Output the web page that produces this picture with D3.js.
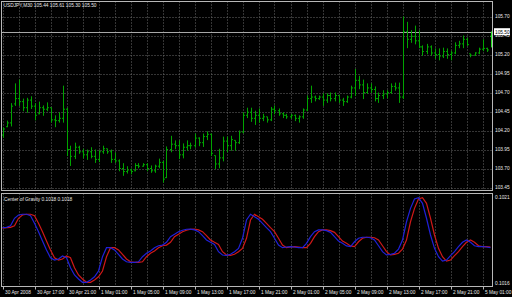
<!DOCTYPE html>
<html>
<head>
<meta charset="utf-8">
<script src="https://cdn.jsdelivr.net/npm/d3@7"></script>
<style>
  body { margin: 0; background: #000; }
  svg text { font-family: "Liberation Sans", Arial, sans-serif; fill: #e8e8e8; }
</style>
</head>
<body>
<div id="holder"></div>
<script>
// USDJPY M30 bars (high, low, open, close)
var highs = [104.24,104.33,104.56,104.82,104.87,104.62,104.63,104.65,104.56,104.58,
  104.53,104.57,104.50,104.40,104.44,104.79,104.50,104.00,104.04,104.00,
  103.96,103.95,103.98,103.95,103.94,104.00,103.96,103.95,103.91,103.82,
  103.77,103.73,103.70,103.77,103.77,103.77,103.77,103.74,103.75,103.83,
  103.80,103.99,104.13,104.07,104.07,104.03,104.07,104.04,104.16,104.11,
  104.16,104.19,104.16,103.87,103.96,104.12,104.12,104.13,104.07,104.20,
  104.44,104.50,104.50,104.46,104.49,104.42,104.38,104.51,104.53,104.49,
  104.44,104.42,104.42,104.41,104.40,104.49,104.66,104.79,104.66,104.66,
  104.69,104.69,104.70,104.70,104.66,104.63,104.66,104.79,105.01,104.92,
  104.87,104.82,104.82,104.78,104.70,104.73,104.73,104.82,104.83,104.83,
  105.70,105.63,105.52,105.58,105.52,105.32,105.34,105.32,105.28,105.28,
  105.29,105.28,105.25,105.36,105.38,105.45,105.42,105.21,105.23,105.29,
  105.40,105.29,105.50];
var lows = [104.11,104.25,104.26,104.53,104.53,104.46,104.44,104.49,104.34,104.42,
  104.40,104.46,104.31,104.25,104.31,104.31,103.87,103.74,103.83,103.90,
  103.84,103.82,103.84,103.78,103.79,103.90,103.90,103.78,103.78,103.67,
  103.61,103.64,103.63,103.67,103.71,103.73,103.67,103.65,103.65,103.71,
  103.52,103.58,103.92,103.96,103.83,103.84,103.94,103.96,103.98,104.00,
  103.99,104.08,103.87,103.70,103.71,103.80,103.92,103.94,103.94,104.03,
  104.17,104.37,104.32,104.28,104.31,104.33,104.31,104.33,104.42,104.40,
  104.37,104.36,104.36,104.33,104.31,104.36,104.46,104.57,104.59,104.61,
  104.53,104.57,104.59,104.59,104.57,104.53,104.57,104.63,104.66,104.75,
  104.62,104.69,104.70,104.59,104.57,104.62,104.63,104.69,104.73,104.57,
  104.62,105.29,105.36,105.34,105.29,105.19,105.21,105.19,105.15,105.13,
  105.16,105.15,105.13,105.21,105.29,105.29,105.32,105.17,105.19,105.21,
  105.25,105.24,105.30];
var opens = [104.14,104.25,104.30,104.55,104.62,104.58,104.50,104.60,104.52,104.42,
  104.50,104.48,104.50,104.34,104.33,104.36,104.48,103.95,103.86,103.98,
  103.92,103.88,103.92,103.86,103.82,103.92,103.96,103.92,103.82,103.80,
  103.70,103.66,103.68,103.67,103.74,103.73,103.75,103.70,103.67,103.73,
  103.78,103.58,103.95,104.02,104.00,103.88,103.98,104.00,104.00,104.10,
  104.04,104.12,104.15,103.87,103.76,103.84,104.06,104.00,104.07,104.04,
  104.18,104.40,104.44,104.36,104.40,104.36,104.38,104.34,104.48,104.46,
  104.42,104.40,104.38,104.40,104.36,104.38,104.47,104.62,104.64,104.62,
  104.64,104.60,104.66,104.62,104.66,104.60,104.58,104.64,104.76,104.86,
  104.80,104.70,104.76,104.74,104.62,104.66,104.68,104.70,104.78,104.76,
  104.64,105.50,105.40,105.44,105.38,105.30,105.24,105.30,105.22,105.20,
  105.18,105.24,105.20,105.22,105.32,105.34,105.40,105.21,105.19,105.22,
  105.27,105.28,105.44];
var closes = [104.22,104.30,104.52,104.62,104.58,104.50,104.60,104.52,104.40,104.50,
  104.48,104.50,104.34,104.33,104.36,104.48,103.95,103.86,103.98,103.92,
  103.88,103.92,103.86,103.82,103.92,103.96,103.92,103.82,103.80,103.70,
  103.66,103.68,103.66,103.74,103.73,103.75,103.70,103.67,103.73,103.78,
  103.56,103.95,104.02,104.00,103.88,103.98,104.00,104.00,104.10,104.04,
  104.12,104.15,103.90,103.76,103.84,104.06,104.00,104.08,104.04,104.18,
  104.40,104.44,104.36,104.40,104.36,104.38,104.34,104.48,104.46,104.42,
  104.40,104.38,104.40,104.36,104.38,104.47,104.62,104.64,104.62,104.64,
  104.60,104.66,104.62,104.66,104.60,104.58,104.64,104.76,104.86,104.80,
  104.70,104.76,104.74,104.62,104.66,104.68,104.70,104.78,104.76,104.64,
  105.50,105.40,105.44,105.38,105.30,105.24,105.30,105.22,105.20,105.18,
  105.24,105.20,105.22,105.32,105.34,105.40,105.33,105.19,105.22,105.27,
  105.28,105.26,105.50];

// Center of Gravity indicator, blue = main line, red = signal line
var cogMain = [0.101918,0.101920,0.101929,0.101972,0.101991,0.101995,0.101995,0.101987,0.101943,0.101895,
  0.101841,0.101790,0.101745,0.101732,0.101738,0.101755,0.101745,0.101688,0.101646,0.101623,
  0.101604,0.101604,0.101617,0.101636,0.101669,0.101751,0.101803,0.101803,0.101790,0.101765,
  0.101738,0.101722,0.101719,0.101719,0.101722,0.101751,0.101771,0.101784,0.101803,0.101814,
  0.101818,0.101834,0.101866,0.101880,0.101895,0.101903,0.101909,0.101910,0.101905,0.101895,
  0.101872,0.101847,0.101834,0.101822,0.101780,0.101761,0.101759,0.101765,0.101780,0.101799,
  0.101857,0.101962,0.101995,0.101981,0.101966,0.101943,0.101918,0.101895,0.101857,0.101818,
  0.101803,0.101807,0.101809,0.101807,0.101803,0.101803,0.101828,0.101866,0.101895,0.101905,
  0.101905,0.101901,0.101891,0.101866,0.101841,0.101828,0.101813,0.101809,0.101837,0.101857,
  0.101863,0.101863,0.101860,0.101847,0.101814,0.101780,0.101761,0.101765,0.101771,0.101795,
  0.101847,0.101952,0.102029,0.102083,0.102090,0.102058,0.101972,0.101876,0.101799,0.101751,
  0.101726,0.101732,0.101757,0.101780,0.101809,0.101834,0.101847,0.101834,0.101814,0.101809,
  0.101809,0.101807,0.101803];
var cogSignal = [0.101915,0.101918,0.101920,0.101929,0.101972,0.101991,0.101995,0.101995,0.101987,0.101943,
  0.101895,0.101841,0.101790,0.101745,0.101732,0.101738,0.101755,0.101745,0.101688,0.101646,
  0.101623,0.101604,0.101604,0.101617,0.101636,0.101669,0.101751,0.101803,0.101803,0.101790,
  0.101765,0.101738,0.101722,0.101719,0.101719,0.101722,0.101751,0.101771,0.101784,0.101803,
  0.101814,0.101818,0.101834,0.101866,0.101880,0.101895,0.101903,0.101909,0.101910,0.101905,
  0.101895,0.101872,0.101847,0.101834,0.101822,0.101780,0.101761,0.101759,0.101765,0.101780,
  0.101799,0.101857,0.101962,0.101995,0.101981,0.101966,0.101943,0.101918,0.101895,0.101857,
  0.101818,0.101803,0.101807,0.101809,0.101807,0.101803,0.101803,0.101828,0.101866,0.101895,
  0.101905,0.101905,0.101901,0.101891,0.101866,0.101841,0.101828,0.101813,0.101809,0.101837,
  0.101857,0.101863,0.101863,0.101860,0.101847,0.101814,0.101780,0.101761,0.101765,0.101771,
  0.101795,0.101847,0.101952,0.102029,0.102083,0.102090,0.102058,0.101972,0.101876,0.101799,
  0.101751,0.101726,0.101732,0.101757,0.101780,0.101809,0.101834,0.101847,0.101834,0.101814,
  0.101809,0.101809,0.101807];

// axis texts
var priceTicks = [105.70,105.45,105.20,104.95,104.70,104.45,104.20,103.95,103.70,103.45];
var timeLabels = ["30 Apr 2008","30 Apr 17:00","30 Apr 21:00","1 May 01:00","1 May 05:00",
  "1 May 09:00","1 May 13:00","1 May 17:00","1 May 21:00","2 May 01:00","2 May 05:00",
  "2 May 09:00","2 May 13:00","2 May 17:00","2 May 21:00","5 May 01:00"];
var timeLabelBars = [0,8,16,24,32,40,48,56,64,72,80,88,96,104,112,120];
var cogTicks = ["0.1021","0.1016"];
var headerText = "USDJPY,M30  105.44 105.61 105.30 105.50";
var cogTitle = "Center of Gravity 0.1018 0.1018";
var lastPrice = 105.50;

// define svg width, height
var width = 512, height = 297;
var main = {top: 1.5, bottom: 190.5, left: 1.5, right: 492.5};
var sub = {top: 193.5, bottom: 286.5};

var svg = d3.select("#holder")
            .append("svg")
            .attr("width", width)
            .attr("height", height)
            .style("display", "block")
            .style("background", "#000");

var x = d3.scaleLinear().domain([0, highs.length - 1]).range([2.5, 490.5]);
var y = d3.scaleLinear().domain([103.45, 105.70]).range([187.5, 16.5]);
var yc = d3.scaleLinear().domain([0.1016, 0.1021]).range([283, 196]);

var gridColor = "#6a6a6a";
var frameColor = "#b8b8b8";

// vertical grid lines every 4 bars (2 hours)
var gridBars = d3.range(0, highs.length, 4);
[[main.top, main.bottom], [sub.top, sub.bottom]].forEach(function(r) {
  svg.append("g")
     .selectAll("line")
     .data(gridBars)
     .enter()
     .append("line")
     .attr("x1", d => Math.round(x(d)) + 0.5)
     .attr("x2", d => Math.round(x(d)) + 0.5)
     .attr("y1", r[0])
     .attr("y2", r[1])
     .attr("stroke", gridColor)
     .attr("stroke-dasharray", "1,2");
});

// horizontal grid lines at price labels
svg.append("g")
   .selectAll("line")
   .data(priceTicks)
   .enter()
   .append("line")
   .attr("x1", main.left)
   .attr("x2", main.right)
   .attr("y1", d => Math.round(y(d)) + 0.5)
   .attr("y2", d => Math.round(y(d)) + 0.5)
   .attr("stroke", gridColor)
   .attr("stroke-dasharray", "1,2");

// bid line
svg.append("line")
   .attr("x1", main.left)
   .attr("x2", main.right)
   .attr("y1", Math.round(y(lastPrice)) + 0.5)
   .attr("y2", Math.round(y(lastPrice)) + 0.5)
   .attr("stroke", "#a8a8a8");

// price bars
svg.append("g")
   .selectAll("path")
   .data(highs.map((h, i) => i))
   .enter()
   .append("path")
   .attr("d", i => {
     var px = Math.round(x(i)) + 0.5;
     return "M" + px + "," + y(highs[i]) + "V" + (y(lows[i]) + 0.5) +
            "M" + (px - 1.5) + "," + y(opens[i]) + "H" + px +
            "M" + px + "," + y(closes[i]) + "H" + (px + 1.5);
   })
   .attr("fill", "none")
   .attr("stroke", (i) => i === highs.length - 1 ? "#20e020" : "#00a400")
   .attr("stroke-width", 1);

// indicator lines
var cogLine = d3.line()
                .x((d, i) => x(i))
                .y(d => yc(d));

svg.append("path")
   .datum(cogSignal)
   .attr("d", cogLine)
   .attr("fill", "none")
   .attr("stroke", "#d01818")
   .attr("stroke-width", 1.2);

svg.append("path")
   .datum(cogMain)
   .attr("d", cogLine)
   .attr("fill", "none")
   .attr("stroke", "#2020d8")
   .attr("stroke-width", 1.2);

// frames
svg.append("rect")
   .attr("x", main.left).attr("y", main.top)
   .attr("width", main.right - main.left).attr("height", main.bottom - main.top)
   .attr("fill", "none").attr("stroke", frameColor);
svg.append("rect")
   .attr("x", main.left).attr("y", sub.top)
   .attr("width", main.right - main.left).attr("height", sub.bottom - sub.top)
   .attr("fill", "none").attr("stroke", frameColor);

var fs = "4.8px";

// price scale
svg.append("g")
   .selectAll("text")
   .data(priceTicks)
   .enter()
   .append("text")
   .attr("x", 495)
   .attr("y", d => y(d) + 1.8)
   .style("font-size", fs)
   .text(d => d.toFixed(2));

// bid label box
svg.append("rect")
   .attr("x", 494)
   .attr("y", y(lastPrice) - 3.5)
   .attr("width", 16)
   .attr("height", 7)
   .attr("fill", "#ffffff");
svg.append("text")
   .attr("x", 495)
   .attr("y", y(lastPrice) + 1.8)
   .style("font-size", fs)
   .style("fill", "#000")
   .text(lastPrice.toFixed(2));

// indicator scale
svg.append("text").attr("x", 495).attr("y", 198.5).style("font-size", fs).text(cogTicks[0]);
svg.append("text").attr("x", 495).attr("y", 285).style("font-size", fs).text(cogTicks[1]);

// titles
svg.append("text").attr("x", 3.5).attr("y", 6.8).style("font-size", fs).text(headerText);
svg.append("text").attr("x", 4).attr("y", 200.5).style("font-size", fs).text(cogTitle);

// time axis ticks and labels
svg.append("g")
   .selectAll("line")
   .data(timeLabelBars)
   .enter()
   .append("line")
   .attr("x1", d => Math.round(x(d)) + 0.5)
   .attr("x2", d => Math.round(x(d)) + 0.5)
   .attr("y1", sub.bottom)
   .attr("y2", sub.bottom + 3)
   .attr("stroke", frameColor);

svg.append("g")
   .selectAll("text")
   .data(timeLabels)
   .enter()
   .append("text")
   .attr("x", (d, i) => x(timeLabelBars[i]) + 2.5)
   .attr("y", 294)
   .style("font-size", fs)
   .text(d => d);
</script>
</body>
</html>
